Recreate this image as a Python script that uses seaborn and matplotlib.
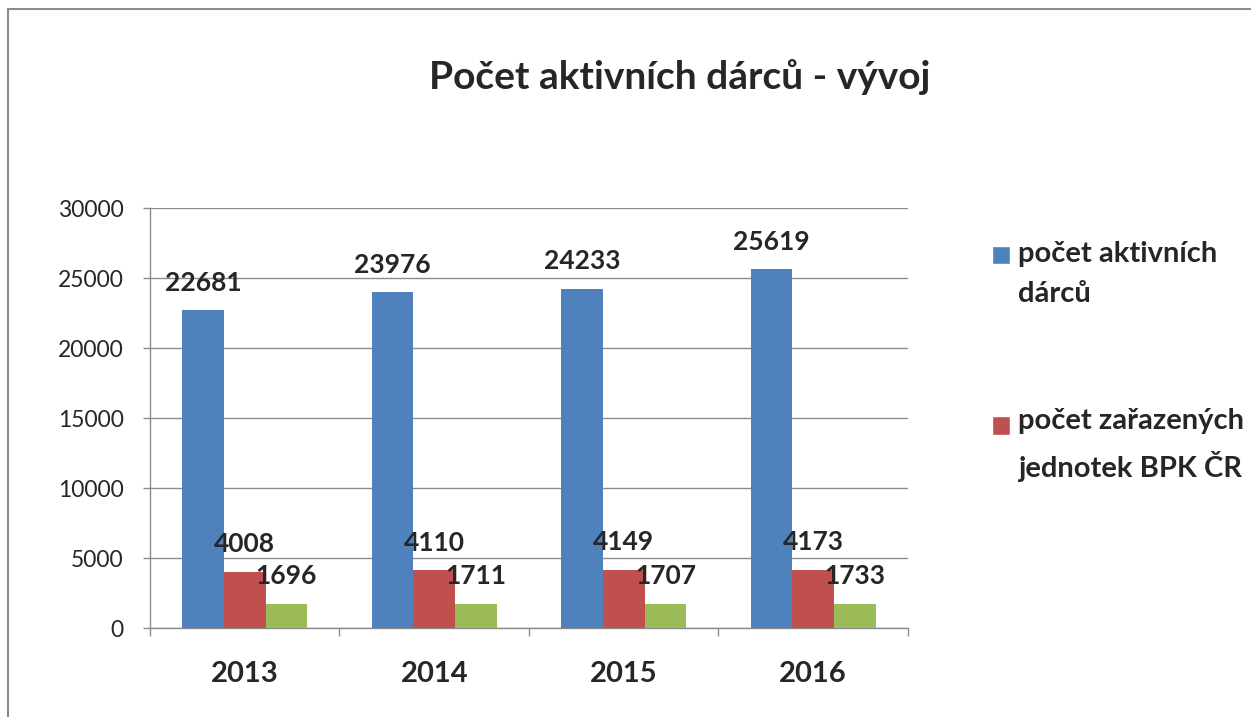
import pandas as pd
import numpy as np
import matplotlib
matplotlib.use('Agg')
import matplotlib.pyplot as plt
from matplotlib.patches import Patch, Rectangle
import seaborn as sns

########################################
# DATA
########################################
years = ["2013", "2014", "2015", "2016"]
aktivni_darci = [22681, 23976, 24233, 25619]
zarazene_jednotky = [4008, 4110, 4149, 4173]
treti_rada = [1696, 1711, 1707, 1733]

series_names = ["počet aktivních\ndárců", "počet zařazených\njednotek BPK ČR", "řada 3"]
colors = ["#4F81BD", "#C0504D", "#9BBB59"]

df = pd.DataFrame({
    "rok": years * 3,
    "hodnota": aktivni_darci + zarazene_jednotky + treti_rada,
    "rada": [series_names[0]] * 4 + [series_names[1]] * 4 + [series_names[2]] * 4,
})

########################################
# PLOT
########################################
sns.set_style("white")
plt.rcParams['font.family'] = ['Lato', 'DejaVu Sans']

fig = plt.figure(figsize=(12.51, 7.17), dpi=100)
ax = fig.add_axes([0.1199, 0.1241, 0.6059, 0.5858])

sns.barplot(data=df, x="rok", y="hodnota", hue="rada", palette=colors,
            width=0.66, saturation=1, ax=ax, legend=False, zorder=3,
            linewidth=0)

# data labels
for cont in ax.containers:
    for bar in cont:
        h = bar.get_height()
        ax.annotate(f"{int(h)}", (bar.get_x() + bar.get_width() / 2, h),
                    xytext=(0, 20), textcoords="offset points",
                    ha="center", va="center", fontsize=19, fontweight="bold")

ax.set_ylim(0, 30000)
ax.set_xlim(-0.5, 3.5)
ax.set_yticks(np.arange(0, 30001, 5000))
ax.yaxis.grid(True, color="#8c8c8c", lw=1, zorder=0)
ax.set_axisbelow(True)
ax.set_xlabel("")
ax.set_ylabel("")

for s in ["top", "right"]:
    ax.spines[s].set_visible(False)
for s in ["left", "bottom"]:
    ax.spines[s].set_color("#8c8c8c")
    ax.spines[s].set_linewidth(1)

ax.tick_params(axis="y", which="major", left=True, length=5, width=1,
               color="#8c8c8c", pad=14, labelsize=16.5)
ax.tick_params(axis="x", which="major", bottom=False, pad=20, labelsize=21)
for lab in ax.get_xticklabels():
    lab.set_fontweight("bold")
ax.set_xticks(np.arange(-0.5, 4, 1), minor=True)
ax.tick_params(axis="x", which="minor", bottom=True, length=6, width=1, color="#8c8c8c")

# legend (only the first two series)
handles = [Patch(facecolor=colors[0]), Patch(facecolor=colors[1])]
leg = fig.legend(handles, series_names[:2], loc="upper left",
                 bbox_to_anchor=(0.772, 0.70), frameon=False,
                 prop={"size": 21, "weight": "bold"},
                 handlelength=0.6, handleheight=0.6, handletextpad=0.3,
                 labelspacing=3.45)
for t in leg.get_texts():
    t.set_linespacing(1.65)
# put the squares next to the first line, like Excel does
for hd in leg.legend_handles:
    hd.set_y(hd.get_y() + 14)

fig.suptitle("Počet aktivních dárců - vývoj", x=0.543, y=0.918,
             fontsize=28, fontweight="bold")

# chart area frame (cut off at right and bottom)
fig.patches.append(Rectangle((0.0064, -0.1), 1.2, 1.0875, transform=fig.transFigure,
                             fill=False, edgecolor="#8c8c8c", lw=1.5))

plt.savefig("out.png", dpi=100)
plt.close()
